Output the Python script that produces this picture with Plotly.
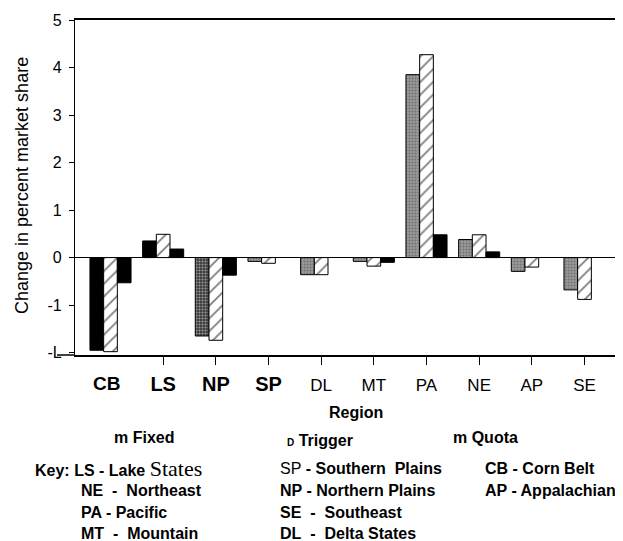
import plotly.graph_objects as go

# ---- data ----
regions = ["CB", "LS", "NP", "SP", "DL", "MT", "PA", "NE", "AP", "SE"]
region_labels = ["<span style='font-size:19px'><b>CB</b></span>",
                 "<span style='font-size:20px'><b>LS</b></span>",
                 "<span style='font-size:20px'><b>NP</b></span>",
                 "<span style='font-size:20px'><b>SP</b></span>",
                 "DL", "MT", "PA", "NE", "AP", "SE"]
fixed = [-1.95, 0.35, -1.65, -0.08, -0.36, -0.08, 3.85, 0.38, -0.29, -0.68]
trigger = [-1.98, 0.49, -1.74, -0.12, -0.36, -0.18, 4.27, 0.48, -0.20, -0.88]
quota = [-0.53, 0.18, -0.37, None, None, -0.10, 0.48, 0.12, None, None]
y_tickvals = [-2, -1, 0, 1, 2, 3, 4, 5]
y_ticktext = ["-L", "-1", "0", "1", "2", "3", "4", "5"]

# ---- layout geometry (pixels of the 623x541 window; the page body has an 8px margin) ----
OFF = 8
WIN_W, WIN_H = 623, 541
W, H = WIN_W - OFF, WIN_H - OFF
PLOT_L, PLOT_R, PLOT_T, PLOT_B = 75, 621, 20, 355   # window coordinates
ML = PLOT_L - OFF
MR = W - (PLOT_R - OFF)
MT_ = PLOT_T - OFF
MB = H - (PLOT_B - OFF)
PW, PH = PLOT_R - PLOT_L, PLOT_B - PLOT_T

def px(x):
    return (x - PLOT_L) / PW

def py(y):
    return (PLOT_B - y) / PH

fixed_colors = ["#000000", "#000000", "#3c3c3c", "#9a9a9a", "#9a9a9a",
                "#9a9a9a", "#9a9a9a", "#9a9a9a", "#9a9a9a", "#9a9a9a"]
fixed_shapes = ["", "", ".", ".", ".", ".", ".", ".", ".", "."]

fig = go.Figure()
fig.add_trace(go.Bar(
    x=regions, y=fixed, name="Fixed",
    marker=dict(color=fixed_colors, line=dict(color="black", width=1),
                pattern=dict(shape=fixed_shapes, fgcolor="#222222", size=3,
                             solidity=0.35, fillmode="overlay")),
))
fig.add_trace(go.Bar(
    x=regions, y=trigger, name="Trigger",
    marker=dict(color="white", line=dict(color="black", width=1),
                pattern=dict(shape="/", fgcolor="black", bgcolor="white",
                             size=9, solidity=0.2, fillmode="overlay")),
))
fig.add_trace(go.Bar(
    x=regions, y=quota, name="Quota",
    marker=dict(color="black", line=dict(color="black", width=1)),
))

font_main = "Liberation Sans, Arial, sans-serif"

fig.update_layout(
    width=W, height=H,
    margin=dict(l=ML, r=MR, t=MT_, b=MB, pad=0, autoexpand=False),
    paper_bgcolor="white", plot_bgcolor="white",
    barmode="group", bargap=0.22, bargroupgap=0,
    showlegend=False,
    font=dict(family=font_main, color="black"),
    xaxis=dict(
        type="category", range=[-0.674, 9.693], automargin=False,
        tickvals=regions[1:], ticktext=region_labels[1:],
        ticks="outside", ticklen=8, tickcolor="black", tickwidth=1,
        tickfont=dict(size=17, family=font_main, color="black"),
        ticklabelstandoff=6,
        showline=True, linecolor="black", linewidth=1.5, mirror=True,
        showgrid=False, zeroline=False,
    ),
    yaxis=dict(
        range=[-2.05, 5.0], automargin=False,
        tickvals=y_tickvals, ticktext=y_ticktext,
        ticks="outside", ticklen=5, tickcolor="black", tickwidth=1,
        tickfont=dict(size=16, family=font_main, color="black"),
        ticklabelstandoff=4,
        showline=True, linecolor="black", linewidth=1.2, mirror=True,
        showgrid=False,
        zeroline=True, zerolinecolor="black", zerolinewidth=1,
    ),
)

# extension of the bottom axis line to the left
fig.add_shape(type="line", xref="paper", yref="paper",
              x0=px(57), x1=px(75), y0=0, y1=0,
              line=dict(color="black", width=1.5))

ann = []

# first category label (no tick mark under it in the original)
ann.append(dict(x=regions[0], y=py(383), xref="x", yref="paper",
                text=region_labels[0], showarrow=False, xanchor="center",
                yanchor="middle", xshift=-4,
                font=dict(size=17, family=font_main, color="black")))

def text(x, y, s, size=16, anchor="left", weight="bold", family=font_main, angle=0):
    ann.append(dict(x=px(x), y=py(y), xref="paper", yref="paper", text=s,
                    showarrow=False, xanchor=anchor, yanchor="middle", textangle=angle,
                    font=dict(size=size, family=family, weight=weight, color="black")))

text(22, 186, "Change in percent market share", size=18, anchor="center",
     weight="normal", angle=-90)
text(356, 412, "Region", anchor="center")
text(112, 437, "m Fixed")
text(285, 440, "<span style='font-size:10px'>D</span> Trigger")
text(451, 437, "m Quota")

serif = ("<span style='font-family:Liberation Serif, Times New Roman, serif;"
         "font-weight:normal;font-size:22px'>States</span>")
text(33, 468, "Key: LS - Lake " + serif)
text(79, 490, "NE&nbsp; - &nbsp;Northeast")
text(79, 512, "PA - Pacific")
text(79, 533, "MT&nbsp; - &nbsp;Mountain")
text(278, 468, "<span style='font-weight:normal'>SP</span> - Southern&nbsp; Plains")
text(278, 490, "NP - Northern Plains")
text(278, 512, "SE&nbsp; - &nbsp;Southeast")
text(278, 533, "DL&nbsp; - &nbsp;Delta States")
text(483, 468, "CB - Corn Belt")
text(483, 490, "AP - Appalachian")

fig.update_layout(annotations=ann)
fig.write_html("out.html")
